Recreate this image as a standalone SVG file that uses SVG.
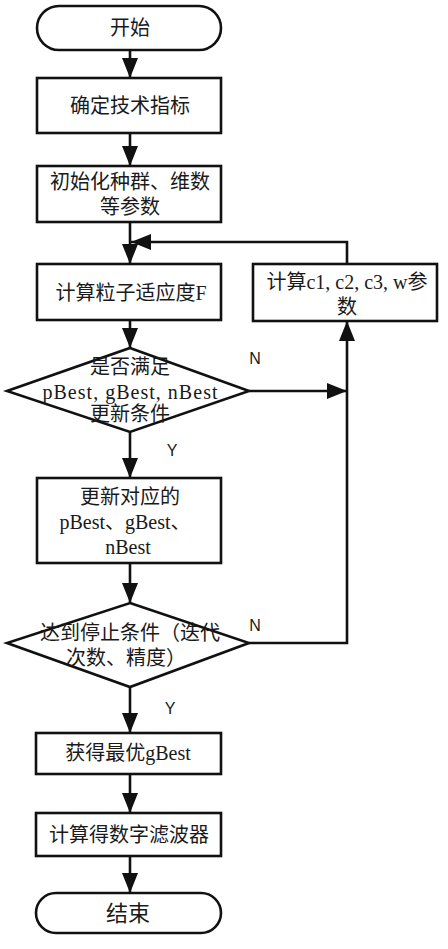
<svg xmlns="http://www.w3.org/2000/svg" width="448" height="949" viewBox="0 0 448 949">
<defs>
<style>
.n{fill:#fff;stroke:#111;stroke-width:2.6}
.c{fill:none;stroke:#111;stroke-width:2.6}
.t{font-family:"Liberation Serif","Noto Sans CJK SC",serif;font-size:20px;fill:#1a1a1a;text-anchor:middle;dominant-baseline:central}
.l{font-family:"Liberation Sans","Noto Sans CJK SC",sans-serif;font-size:16px;fill:#1a1a1a;text-anchor:middle;dominant-baseline:central}
</style>
<marker id="a" viewBox="0 0 20 16" refX="20" refY="8" markerWidth="20" markerHeight="16" markerUnits="userSpaceOnUse" orient="auto">
<path d="M0,0 L20,8 L0,16 z" fill="#111"/>
</marker>
</defs>
<rect width="448" height="949" fill="#fff"/>
<g id="connectors">
<path class="c" d="M130,50 V78" marker-end="url(#a)"/>
<path class="c" d="M130,133 V166" marker-end="url(#a)"/>
<path class="c" d="M130,222 V264" marker-end="url(#a)"/>
<path class="c" d="M347,264 V242 H131" marker-end="url(#a)"/>
<path class="c" d="M130,320 V348" marker-end="url(#a)"/>
<path class="c" d="M249,391 H347" marker-end="url(#a)"/>
<path class="c" d="M249,643 H347 V321" marker-end="url(#a)"/>
<path class="c" d="M130,432 V478" marker-end="url(#a)"/>
<path class="c" d="M130,563 V603" marker-end="url(#a)"/>
<path class="c" d="M130,687 V733" marker-end="url(#a)"/>
<path class="c" d="M130,774 V813" marker-end="url(#a)"/>
<path class="c" d="M130,856 V893" marker-end="url(#a)"/>
<text class="l" x="255" y="358">N</text>
<text class="l" x="172" y="450">Y</text>
<text class="l" x="255" y="625">N</text>
<text class="l" x="170" y="708">Y</text>
</g>
<g id="start">
<rect class="n" x="37" y="6" width="184" height="44" rx="22"/>
<text class="t" x="130" y="28">开始</text>
</g>
<g id="spec">
<rect class="n" x="37" y="78" width="184" height="55"/>
<text class="t" x="130" y="106">确定技术指标</text>
</g>
<g id="init">
<rect class="n" x="37" y="166" width="184" height="56"/>
<text class="t" x="130" y="182">初始化种群、维数</text>
<text class="t" x="130" y="207">等参数</text>
</g>
<g id="fitness">
<rect class="n" x="37" y="264" width="184" height="56"/>
<text class="t" x="131" y="293">计算粒子适应度F</text>
</g>
<g id="params">
<rect class="n" x="253" y="264" width="184" height="57"/>
<text class="t" x="347" y="282">计算c1, c2, c3, w参</text>
<text class="t" x="347" y="307">数</text>
</g>
<g id="cond1">
<polygon class="n" points="130,348 249,391 130,432 7,391"/>
<text class="t" x="130" y="367">是否满足</text>
<text class="t" x="130" y="392" textLength="175" lengthAdjust="spacing">pBest, gBest, nBest</text>
<text class="t" x="130" y="414">更新条件</text>
</g>
<g id="update">
<rect class="n" x="37" y="478" width="184" height="85"/>
<text class="t" x="130" y="497">更新对应的</text>
<text class="t" x="125" y="522">pBest、gBest、</text>
<text class="t" x="128" y="547">nBest</text>
</g>
<g id="cond2">
<polygon class="n" points="130,603 249,643 130,687 7,643"/>
<text class="t" x="130" y="633">达到停止条件（迭代</text>
<text class="t" x="126" y="658">次数、精度）</text>
</g>
<g id="best">
<rect class="n" x="36" y="733" width="185" height="41"/>
<text class="t" x="128" y="753">获得最优gBest</text>
</g>
<g id="filter">
<rect class="n" x="36" y="813" width="185" height="43"/>
<text class="t" x="129" y="835">计算得数字滤波器</text>
</g>
<g id="end">
<rect class="n" x="36" y="893" width="185" height="40" rx="20"/>
<text class="t" x="128" y="913" style="font-size:22px">结束</text>
</g>
</svg>
